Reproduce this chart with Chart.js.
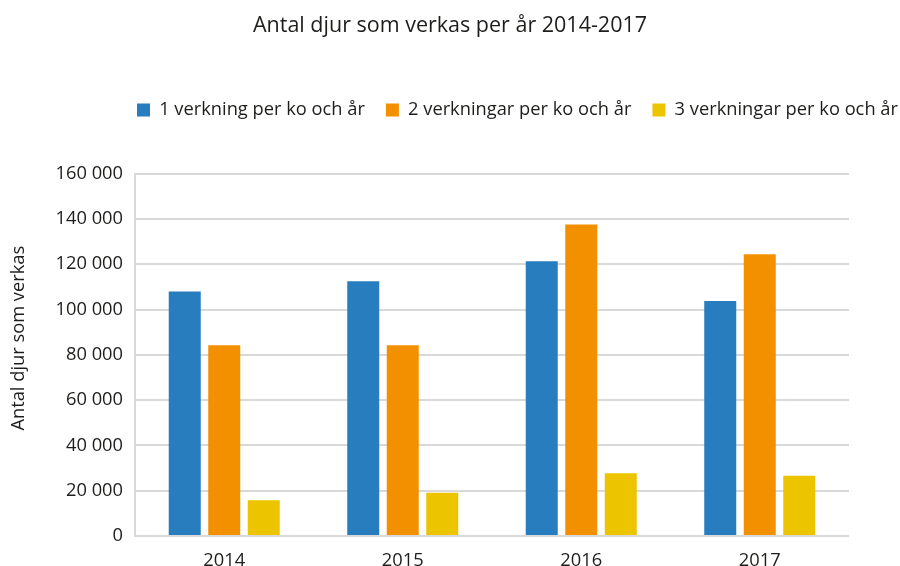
<!DOCTYPE html>
<html>
<head>
<meta charset="utf-8">
<title>Antal djur som verkas per år 2014-2017</title>
<script src="https://cdn.jsdelivr.net/npm/chart.js@4.4.0/dist/chart.umd.min.js"></script>
<style>
  html, body { margin: 0; padding: 0; background: #fff; }
  #wrap { width: 900px; height: 566px; }
</style>
</head>
<body>
<div id="wrap"><canvas id="bar-chart" width="900" height="566"></canvas></div>
<script>
// ----------------------- data -----------------------
var years = ['2014', '2015', '2016', '2017'];
var seriesNames = ['1 verkning per ko och år', '2 verkningar per ko och år', '3 verkningar per ko och år'];
var enVerkning = [108000, 112500, 121300, 103800];
var tvaVerkningar = [84200, 84200, 137600, 124400];
var treVerkningar = [15800, 19100, 27700, 26600];
var yTickValues = [0, 20000, 40000, 60000, 80000, 100000, 120000, 140000, 160000];

// ----------------------- chart ----------------------
var textColor = '#1d1d1b';
var gridColor = '#d9d9d9';
Chart.defaults.font.family = "'Open Sans', sans-serif";
Chart.defaults.color = textColor;

// tusental med mellanslag: 160 000
function formatNumber(v) {
  return String(v).replace(/\B(?=(\d{3})+(?!\d))/g, ' ');
}

// flyttar legenden åt höger som i originalet
var legendShift = {
  id: 'legendShift',
  afterLayout: function(chart) {
    chart.legend.left += 116;
    chart.legend.right += 116;
  }
};

var options = {
  type: 'bar',
  data: {
    labels: years,
    datasets: [
      { label: seriesNames[0], data: enVerkning, backgroundColor: '#277dbe' },
      { label: seriesNames[1], data: tvaVerkningar, backgroundColor: '#f39000' },
      { label: seriesNames[2], data: treVerkningar, backgroundColor: '#ecc400' }
    ]
  },
  options: {
    responsive: false,
    animation: false,
    layout: { padding: 0 },
    datasets: {
      bar: { categoryPercentage: 0.664, barPercentage: 0.81, borderWidth: 0 }
    },
    plugins: {
      title: {
        display: true,
        text: 'Antal djur som verkas per år 2014-2017',
        color: textColor,
        font: { size: 21.5, weight: 'normal' },
        padding: { top: 13, bottom: 41 }
      },
      legend: {
        align: 'start',
        labels: {
          boxWidth: 13,
          boxHeight: 13,
          padding: 21,
          color: textColor,
          font: { size: 18.3 }
        }
      },
      tooltip: { enabled: false }
    },
    scales: {
      x: {
        grid: { display: false },
        border: { display: false },
        ticks: { padding: 6, font: { size: 18.3 } },
        afterFit: function(s) { s.height = 30; }
      },
      xTop: {
        type: 'category',
        position: 'top',
        grid: { display: false },
        border: { display: false },
        ticks: { display: false },
        afterFit: function(s) { s.height = 44.6; }
      },
      y: {
        min: 0,
        max: 160000,
        afterBuildTicks: function(axis) {
          axis.ticks = yTickValues.map(function(v) { return { value: v }; });
        },
        grid: { color: gridColor, lineWidth: 2, drawTicks: false },
        border: { color: gridColor, width: 2 },
        ticks: {
          padding: 12,
          font: { size: 18.3 },
          callback: function(v) { return formatNumber(v); }
        },
        title: {
          display: true,
          // inledande mellanslag lyfter titeln lite som i originalet
          text: '       Antal djur som verkas',
          color: textColor,
          font: { size: 18.3 },
          padding: { top: 8, bottom: 0 }
        },
        afterFit: function(s) { s.width = 135; }
      },
      yRight: {
        position: 'right',
        grid: { display: false },
        border: { display: false },
        ticks: { display: false },
        afterFit: function(s) { s.width = 51; }
      }
    }
  },
  plugins: [legendShift]
};

var chart = new Chart(document.getElementById('bar-chart'), options);
</script>
</body>
</html>
